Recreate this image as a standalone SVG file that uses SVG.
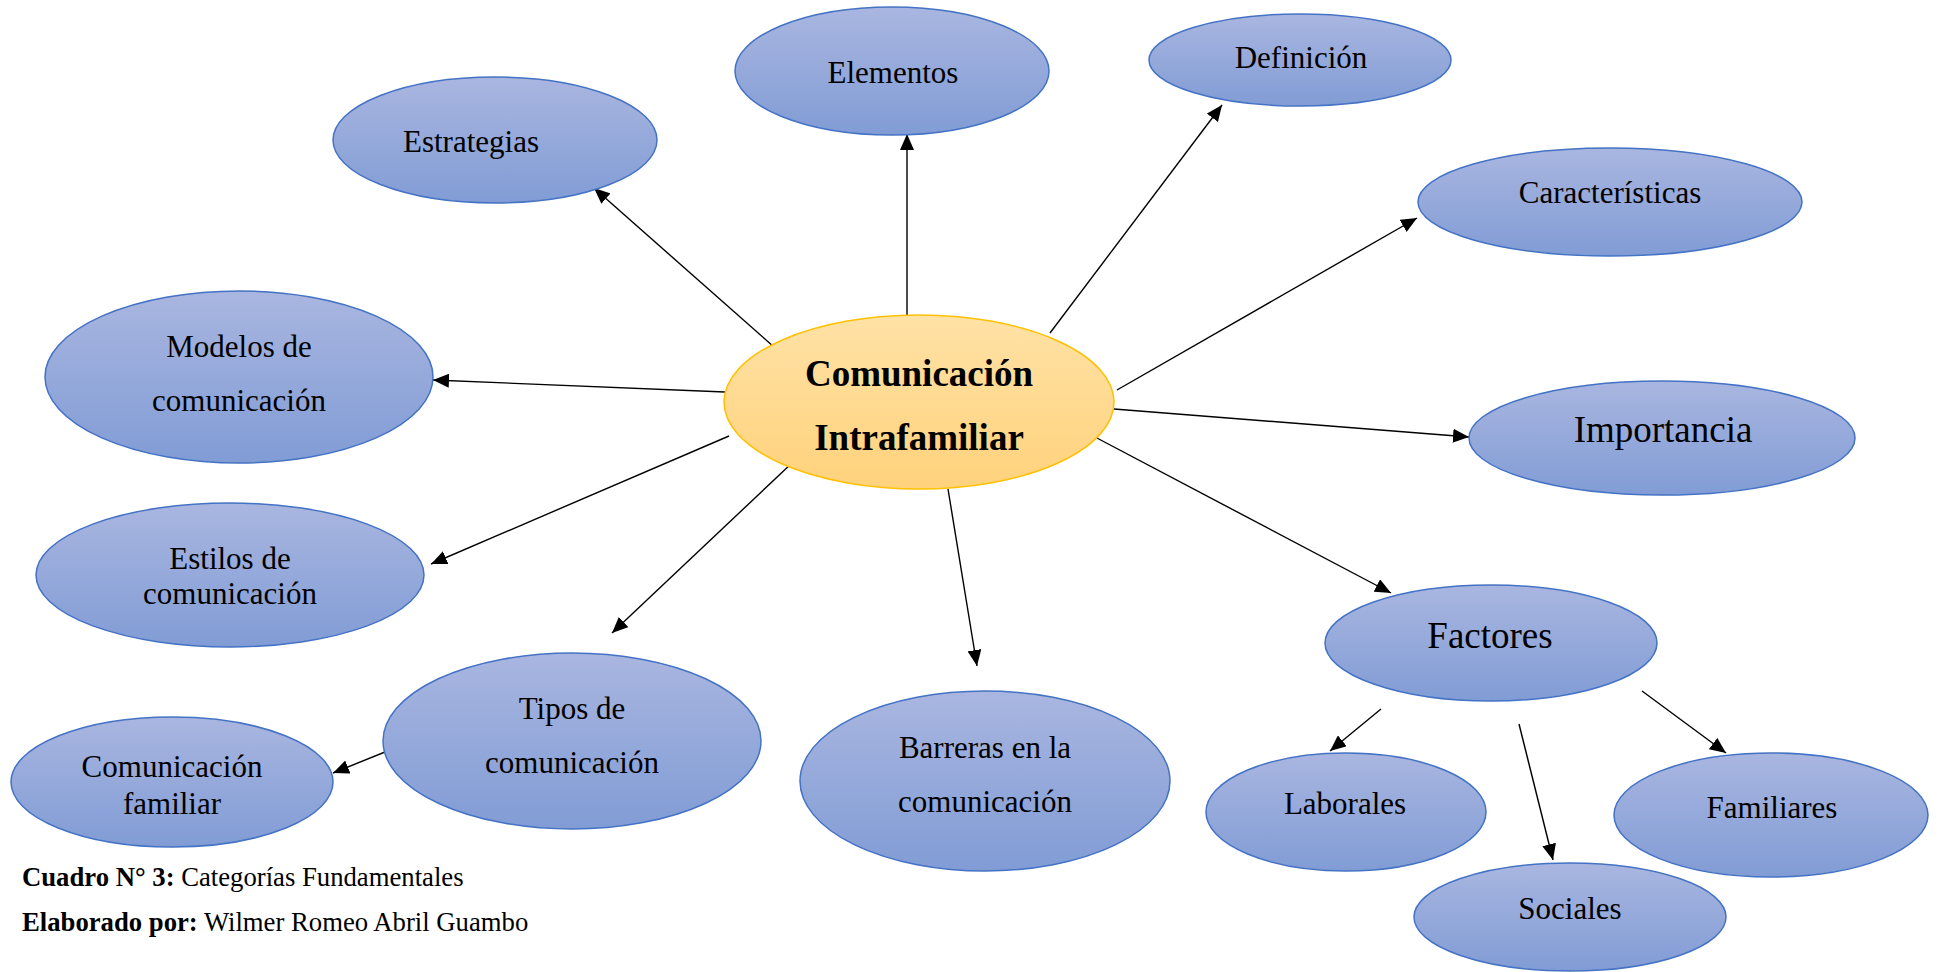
<svg xmlns="http://www.w3.org/2000/svg" width="1940" height="972" viewBox="0 0 1940 972">
<style>
.node{fill:url(#blue);stroke:#4472C4;stroke-width:1.5}
.center{fill:url(#yellow);stroke:#FFC000;stroke-width:1.5}
.t{font-family:"Liberation Serif","Times New Roman",serif;font-size:31px;fill:#000;text-anchor:middle}
.big{font-size:37px}
.b{font-weight:bold}
.cap{font-family:"Liberation Serif","Times New Roman",serif;font-size:26.7px;fill:#000}
.conn line{stroke:#000;stroke-width:1.4;marker-end:url(#arr)}
</style>
<defs>
<linearGradient id="blue" x1="0" y1="0" x2="0" y2="1">
<stop offset="0" stop-color="#A9B6E0"/>
<stop offset="1" stop-color="#819CD5"/>
</linearGradient>
<linearGradient id="yellow" x1="0" y1="0" x2="0" y2="1">
<stop offset="0" stop-color="#FFE2A6"/>
<stop offset="1" stop-color="#FFD27C"/>
</linearGradient>
<marker id="arr" markerUnits="userSpaceOnUse" markerWidth="17" markerHeight="14" refX="16" refY="7" orient="auto">
<path d="M0,0 L16,7 L0,14 z" fill="#000"/>
</marker>
</defs>
<rect width="1940" height="972" fill="#fff"/>
<g class="conn" id="connectors">
<line x1="907" y1="315" x2="907" y2="134"/>
<line x1="774" y1="347" x2="594" y2="188"/>
<line x1="725" y1="392" x2="433" y2="380"/>
<line x1="729" y1="436" x2="431" y2="564"/>
<line x1="792" y1="463" x2="612" y2="633"/>
<line x1="948" y1="489" x2="977" y2="666"/>
<line x1="1050" y1="333" x2="1222" y2="105"/>
<line x1="1117" y1="390" x2="1417" y2="218"/>
<line x1="1114" y1="409" x2="1469" y2="437"/>
<line x1="1095" y1="437" x2="1391" y2="593"/>
<line x1="385" y1="752" x2="333" y2="773"/>
<line x1="1381" y1="709" x2="1330" y2="751"/>
<line x1="1519" y1="724" x2="1553" y2="860"/>
<line x1="1642" y1="691" x2="1726" y2="753"/>
</g>
<g id="estrategias">
<ellipse class="node" cx="495" cy="140" rx="162" ry="63"/>
<text class="t" x="471" y="152">Estrategias</text>
</g>
<g id="elementos">
<ellipse class="node" cx="892" cy="71" rx="157" ry="64"/>
<text class="t" x="893" y="83">Elementos</text>
</g>
<g id="definicion">
<ellipse class="node" cx="1300" cy="60" rx="151" ry="46"/>
<text class="t" x="1301" y="68">Definición</text>
</g>
<g id="caracteristicas">
<ellipse class="node" cx="1610" cy="202" rx="192" ry="54"/>
<text class="t" x="1610" y="203">Características</text>
</g>
<g id="importancia">
<ellipse class="node" cx="1662" cy="438" rx="193" ry="57"/>
<text class="t big" x="1663" y="442">Importancia</text>
</g>
<g id="modelos">
<ellipse class="node" cx="239" cy="377" rx="194" ry="86"/>
<text class="t" x="239" y="357">Modelos de</text>
<text class="t" x="239" y="411">comunicación</text>
</g>
<g id="estilos">
<ellipse class="node" cx="230" cy="575" rx="194" ry="72"/>
<text class="t" x="230" y="569">Estilos de</text>
<text class="t" x="230" y="604">comunicación</text>
</g>
<g id="tipos">
<ellipse class="node" cx="572" cy="741" rx="189" ry="88"/>
<text class="t" x="572" y="719">Tipos de</text>
<text class="t" x="572" y="773">comunicación</text>
</g>
<g id="comunicacion-familiar">
<ellipse class="node" cx="172" cy="782" rx="161" ry="65"/>
<text class="t" x="172" y="777">Comunicación</text>
<text class="t" x="172" y="814">familiar</text>
</g>
<g id="barreras">
<ellipse class="node" cx="985" cy="781" rx="185" ry="90"/>
<text class="t" x="985" y="758">Barreras en la</text>
<text class="t" x="985" y="812">comunicación</text>
</g>
<g id="factores">
<ellipse class="node" cx="1491" cy="643" rx="166" ry="58"/>
<text class="t big" x="1490" y="648">Factores</text>
</g>
<g id="laborales">
<ellipse class="node" cx="1346" cy="812" rx="140" ry="59"/>
<text class="t" x="1345" y="814">Laborales</text>
</g>
<g id="sociales">
<ellipse class="node" cx="1570" cy="917" rx="156" ry="54"/>
<text class="t" x="1570" y="919">Sociales</text>
</g>
<g id="familiares">
<ellipse class="node" cx="1771" cy="815" rx="157" ry="62"/>
<text class="t" x="1772" y="818">Familiares</text>
</g>
<g id="central">
<ellipse class="center" cx="919" cy="402" rx="195" ry="87"/>
<text class="t big b" x="919" y="386">Comunicación</text>
<text class="t big b" x="919" y="450">Intrafamiliar</text>
</g>
<g id="caption">
<text class="cap" x="22" y="886"><tspan font-weight="bold">Cuadro N° 3:</tspan> Categorías Fundamentales</text>
<text class="cap" x="22" y="931"><tspan font-weight="bold">Elaborado por:</tspan> Wilmer Romeo Abril Guambo</text>
</g>
</svg>
